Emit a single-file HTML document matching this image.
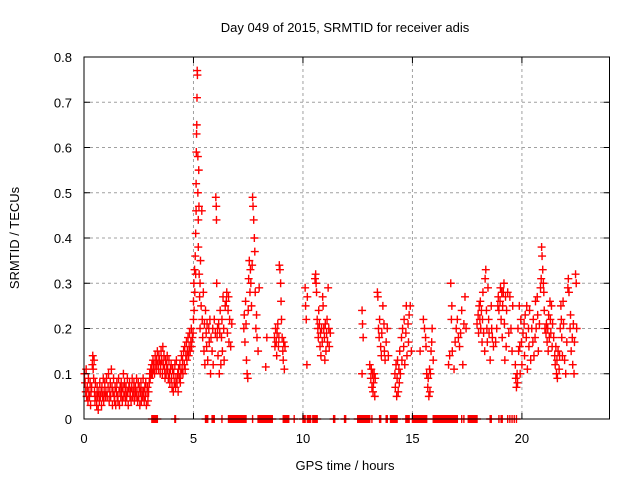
<!DOCTYPE html>
<html><head><meta charset="utf-8"><style>
body{margin:0;background:#fff;}
svg text{font-family:"Liberation Sans",sans-serif;font-size:13px;fill:#000;}
</style></head><body>
<svg id="chart" width="640" height="480">
<rect x="0" y="0" width="640" height="480" fill="#fff"/>
<text x="345" y="32" text-anchor="middle">Day 049 of 2015, SRMTID for receiver adis</text>
<text x="345" y="470" text-anchor="middle">GPS time / hours</text>
<text transform="translate(19,238) rotate(-90)" text-anchor="middle">SRMTID / TECUs</text>
<g id="grid"></g><g id="marks"></g>
<rect x="84" y="57" width="525.5" height="362" fill="none" stroke="#000" stroke-width="1"/>
<g id="ticks"></g>
</svg>
<script>
const xTicks=[0,5,10,15,20];
const yTicks=[0,0.1,0.2,0.3,0.4,0.5,0.6,0.7,0.8];
const yTickLabels=["0","0.1","0.2","0.3","0.4","0.5","0.6","0.7","0.8"];
const times=[0.02,0.05,0.08,0.1,0.12,0.15,0.18,0.2,0.22,0.25,0.28,0.3,0.32,0.35,0.38,0.4,0.42,0.44,0.46,0.48,0.5,0.52,0.55,0.58,0.6,0.62,0.65,0.68,0.7,0.72,0.75,0.78,0.8,0.82,0.85,0.88,0.9,0.92,0.95,0.98,
1.0,1.03,1.06,1.1,1.12,1.15,1.18,1.2,1.22,1.25,1.28,1.3,1.32,1.35,1.38,1.4,1.42,1.45,1.48,1.5,1.52,1.55,1.58,1.6,1.62,1.65,1.68,1.7,1.72,1.75,1.78,1.8,1.82,1.85,1.88,1.9,1.92,1.95,1.98,2.0,2.02,2.05,2.08,2.1,2.12,2.15,2.18,2.2,2.22,2.25,2.28,2.3,2.32,2.35,2.38,2.4,2.42,2.45,2.48,
2.5,2.52,2.55,2.58,2.6,2.62,2.65,2.68,2.7,2.72,2.75,2.78,2.8,2.82,2.85,2.88,2.9,2.92,2.95,2.98,
3.0,3.02,3.05,3.08,3.1,3.12,3.15,3.18,3.2,3.22,3.25,3.28,3.3,3.32,3.35,3.38,3.4,3.42,3.45,3.48,
3.5,3.52,3.55,3.58,3.6,3.62,3.65,3.68,3.7,3.72,3.75,3.78,3.8,3.82,3.85,3.88,3.9,3.92,3.95,3.98,
4.0,4.02,4.05,4.08,4.1,4.12,4.15,4.18,4.2,4.22,4.25,4.28,4.3,4.32,4.35,4.38,4.4,4.42,4.45,4.48,
4.5,4.52,4.55,4.58,4.6,4.62,4.65,4.68,4.7,4.72,4.75,4.78,4.8,4.82,4.85,4.88,4.9,4.92,4.95,4.98,
5.0,5.0,5.02,5.03,5.05,5.06,5.08,5.1,5.1,5.12,5.12,5.13,5.14,5.15,5.16,5.17,5.18,5.2,5.2,5.22,5.22,5.24,5.25,5.26,5.28,5.3,5.3,5.32,5.35,5.38,
5.4,5.42,5.45,5.48,5.5,5.52,5.55,5.58,5.6,5.62,5.65,5.7,5.72,5.75,5.78,5.8,5.85,5.88,5.9,5.95,
6.0,6.02,6.04,6.05,6.06,6.08,6.1,6.12,6.15,6.18,6.2,6.22,6.25,6.28,6.3,6.32,6.35,6.38,6.4,6.45,
6.5,6.52,6.55,6.58,6.6,6.62,6.65,6.7,6.75,
7.3,7.32,7.35,7.38,7.4,7.42,7.45,7.48,7.5,7.52,7.55,7.58,7.6,7.62,7.65,7.68,7.7,7.72,7.75,7.78,7.8,7.82,7.85,7.88,7.9,7.95,8.0,
8.3,8.35,
8.7,8.72,8.75,8.78,8.8,8.82,8.85,8.88,8.9,8.92,8.95,8.98,9.0,9.02,9.05,9.08,9.1,9.12,9.15,9.18,
10.1,10.12,10.15,10.18,10.2,
10.55,10.58,10.6,10.62,10.65,10.68,10.7,10.72,10.75,10.78,10.8,10.82,10.85,10.88,10.9,10.92,10.95,10.98,11.0,11.02,11.05,11.08,11.1,11.12,11.15,11.18,11.2,11.25,
12.7,12.72,12.75,12.7,
13.05,13.1,13.12,13.15,13.18,13.2,13.22,13.25,13.28,13.3,
13.4,13.42,13.45,13.48,13.5,13.55,13.58,13.6,13.65,13.7,13.72,13.75,13.8,13.85,13.9,
14.2,14.22,14.25,14.28,14.3,14.32,14.35,14.38,14.4,14.42,14.45,14.5,14.52,14.55,14.6,14.62,14.65,14.7,14.72,14.75,14.8,14.82,14.85,14.9,14.95,
15.35,
15.5,15.55,15.6,15.62,15.65,15.7,15.72,15.75,15.78,15.8,15.82,15.85,15.88,15.9,15.95,
16.65,16.7,16.75,16.78,16.8,16.82,16.9,16.95,17.0,17.05,17.1,17.15,17.2,17.25,17.3,17.35,17.4,17.45,
17.95,18.0,18.02,18.05,18.08,18.1,18.12,18.15,18.18,18.2,18.22,18.25,18.3,18.32,18.35,18.38,18.4,18.42,18.45,18.48,18.5,18.55,18.6,18.62,18.65,18.7,
18.8,18.85,18.9,18.92,18.95,19.0,19.02,19.05,19.08,19.1,19.12,19.15,19.18,19.2,19.22,19.25,19.28,19.3,19.35,19.4,19.45,19.5,19.55,19.58,
19.7,19.72,19.75,19.78,19.8,19.82,19.85,19.88,19.9,19.92,19.95,19.98,20.0,
20.05,20.1,20.12,20.15,20.2,20.22,20.25,20.3,20.32,20.35,20.4,20.45,20.5,20.52,20.55,20.6,20.62,20.65,20.7,20.72,20.75,20.8,20.85,20.88,20.9,20.92,20.95,20.98,21.0,21.02,21.05,
21.1,21.12,21.15,21.18,21.2,21.22,21.25,21.28,21.3,21.32,21.35,21.38,21.4,21.45,21.5,21.52,21.55,21.58,21.6,21.62,21.65,21.7,21.72,21.75,21.78,21.8,21.82,21.85,21.88,21.9,21.95,22.0,22.05,22.1,22.12,22.15,22.2,22.22,22.25,22.3,22.32,22.35,22.38,22.4,22.45,22.48,22.5];
const values=[.1,.08,.06,.11,.05,.07,.04,.09,.06,.05,.08,.03,.06,.07,.12,.14,.11,.09,.13,.06,.04,.08,.05,.03,.07,.05,.02,.06,.04,.08,.05,.06,.03,.07,.05,.09,.04,.06,.08,.05,
.06,.09,.05,.07,.1,.04,.06,.08,.05,.11,.07,.03,.06,.09,.05,.04,.07,.03,.06,.08,.05,.04,.09,.06,.03,.07,.05,.08,.06,.04,.07,.1,.05,.08,.06,.04,.07,.05,.09,.06,.03,.07,.08,.05,.06,.04,.07,.09,.05,.06,.08,.04,.06,.07,.05,.09,.06,.04,.08,
.05,.07,.03,.06,.08,.04,.06,.05,.09,.06,.04,.07,.05,.08,.03,.06,.07,.04,.06,.08,
.1,.09,.11,.1,.12,.1,.13,.11,.12,.1,.14,.12,.11,.13,.15,.12,.11,.14,.13,.1,
.12,.15,.13,.1,.16,.12,.14,.11,.09,.13,.1,.12,.14,.11,.09,.13,.1,.08,.11,.12,
.09,.07,.11,.06,.1,.08,.12,.07,.09,.13,.08,.1,.06,.11,.09,.12,.08,.1,.14,.11,
.13,.1,.15,.12,.16,.11,.14,.17,.13,.15,.18,.14,.16,.19,.15,.17,.2,.16,.18,.19,
.22,.26,.3,.24,.33,.28,.36,.32,.41,.46,.52,.59,.63,.65,.71,.77,.76,.58,.5,.44,.38,.55,.47,.32,.27,.3,.2,.35,.25,.46,
.22,.18,.28,.15,.21,.12,.24,.19,.16,.21,.13,.2,.17,.22,.1,.18,.15,.2,.12,.22,
.19,.49,.47,.44,.3,.18,.2,.14,.21,.1,.19,.24,.12,.18,.22,.15,.27,.2,.13,.25,
.26,.28,.19,.24,.27,.17,.22,.16,.21,
.2,.23,.17,.26,.21,.13,.1,.09,.24,.31,.35,.28,.33,.3,.25,.34,.49,.47,.44,.4,.37,.28,.2,.23,.18,.15,.29,
.115,.18,
.18,.16,.2,.17,.14,.19,.21,.16,.18,.34,.33,.3,.26,.22,.18,.15,.13,.17,.11,.16,
.29,.25,.22,.12,.27,
.31,.32,.3,.28,.22,.2,.18,.24,.21,.16,.19,.14,.2,.17,.27,.25,.2,.18,.13,.21,.15,.19,.22,.17,.29,.2,.16,.19,
.24,.21,.18,.1,
.12,.09,.11,.07,.1,.06,.08,.1,.05,.09,
.28,.27,.2,.18,.22,.16,.14,.19,.25,.21,.15,.13,.17,.2,.14,
.1,.07,.12,.05,.09,.13,.06,.11,.08,.15,.1,.18,.13,.2,.16,.22,.12,.19,.25,.14,.21,.17,.23,.25,.15,
.15,
.22,.2,.18,.16,.1,.07,.09,.05,.11,.06,.1,.15,.17,.2,.13,
.12,.14,.3,.22,.25,.15,.11,.17,.2,.22,.18,.16,.19,.24,.12,.21,.27,.2,
.21,.23,.19,.25,.22,.26,.2,.24,.17,.22,.28,.19,.15,.31,.33,.24,.2,.17,.29,.22,.19,.13,.25,.2,.18,.16,
.17,.2,.25,.27,.24,.26,.29,.22,.28,.18,.25,.28,.3,.21,.13,.27,.16,.24,.28,.19,.27,.2,.15,.25,
.12,.09,.07,.1,.08,.2,.15,.25,.16,.1,.22,.17,.12,
.19,.21,.14,.23,.18,.25,.11,.2,.16,.24,.13,.2,.17,.22,.14,.18,.26,.2,.27,.23,.15,.21,.29,.31,.38,.36,.33,.3,.28,.24,.2,
.19,.21,.17,.2,.15,.23,.18,.26,.22,.19,.25,.16,.21,.18,.14,.12,.16,.1,.13,.09,.15,.11,.14,.2,.25,.22,.18,.14,.26,.21,.13,.1,.17,.29,.31,.28,.2,.23,.15,.18,.12,.21,.1,.17,.32,.3,.2];
const zeroTimes=[3.1,3.15,3.2,3.25,3.3,3.35,4.15,4.18,5.55,5.6,5.65,5.85,5.9,5.95,6.3,6.6,6.65,6.7,6.75,6.8,6.85,6.9,6.95,7.0,7.05,7.1,7.15,7.2,7.25,7.3,7.35,7.4,7.7,7.95,8.0,8.05,8.1,8.15,8.2,8.25,8.3,8.35,8.4,8.45,8.5,8.55,8.6,9.1,9.15,9.2,9.25,9.3,9.35,9.6,10.0,10.05,10.1,10.2,10.25,10.3,10.35,10.45,10.5,10.55,10.6,10.65,11.4,11.45,11.9,11.95,12.5,12.55,12.6,12.65,12.7,12.75,12.8,12.85,12.9,12.95,13.0,13.05,13.15,13.5,13.55,13.8,13.85,14.0,14.05,14.1,14.15,14.2,14.25,14.3,14.7,14.75,14.8,14.85,15.0,15.05,15.1,15.15,15.2,15.25,15.3,15.35,15.4,15.45,15.5,15.55,15.6,15.65,15.95,16.0,16.05,16.1,16.15,16.2,16.25,16.3,16.35,16.4,16.45,16.5,16.55,16.6,16.65,16.7,16.75,16.8,16.85,16.9,16.95,17.0,17.05,17.25,17.35,17.55,17.6,17.65,17.7,17.75,17.8,17.85,17.9,17.95,18.55,18.6,18.95,19.05,19.1,19.35,19.45,19.55,19.65,19.75];
const X0=84,X1=609.5,Y0=419,Y1=57;
function xs(t){return X0+(t/24)*(X1-X0);}
function ys(v){return Y0-(v/0.8)*(Y0-Y1);}
const NS="http://www.w3.org/2000/svg";
const grid=document.getElementById('grid'),ticks=document.getElementById('ticks'),marks=document.getElementById('marks');
function mk(tag,attrs,parent){const e=document.createElementNS(NS,tag);for(const k in attrs)e.setAttribute(k,attrs[k]);parent.appendChild(e);return e;}
xTicks.forEach(function(t){
  const x=xs(t);
  if(t>0){const g=mk('line',{x1:x,y1:Y1,x2:x,y2:Y0,stroke:'#a0a0a0','stroke-dasharray':'3,3'},grid);
  
  }
  const tk=mk('path',{d:'M'+x+' '+Y0+'v-6M'+x+' '+Y1+'v6',stroke:'#000'},ticks);
  
  
  const lb=mk('text',{x:x,y:Y0+24,'text-anchor':'middle','font-size':'14'},ticks);lb.textContent=String(t);
  
  
});
yTicks.forEach(function(v,i){
  const y=ys(v);
  if(v>0&&v<0.8){const g=mk('line',{x1:X0,y1:y,x2:X1,y2:y,stroke:'#a0a0a0','stroke-dasharray':'3,3'},grid);
  
  }
  const tk=mk('path',{d:'M'+X0+' '+y+'h6M'+X1+' '+y+'h-6',stroke:'#000'},ticks);
  
  
  const lb=mk('text',{x:X0-12,y:y+5,'text-anchor':'end','font-size':'14'},ticks);lb.textContent=yTickLabels[i];
  
  
});
let d='';
function plus(t,v){const x=xs(t),y=ys(v);d+='M'+(x-4)+' '+y+'h8M'+x+' '+(y-4)+'v8';}
for(let i=0;i<times.length;i++)plus(times[i],values[i]);
for(let i=0;i<zeroTimes.length;i++)plus(zeroTimes[i],0);
const p=mk('path',{d:d,stroke:'#ff0000','stroke-width':'1.4',fill:'none'},marks);


</script>
</body></html>
